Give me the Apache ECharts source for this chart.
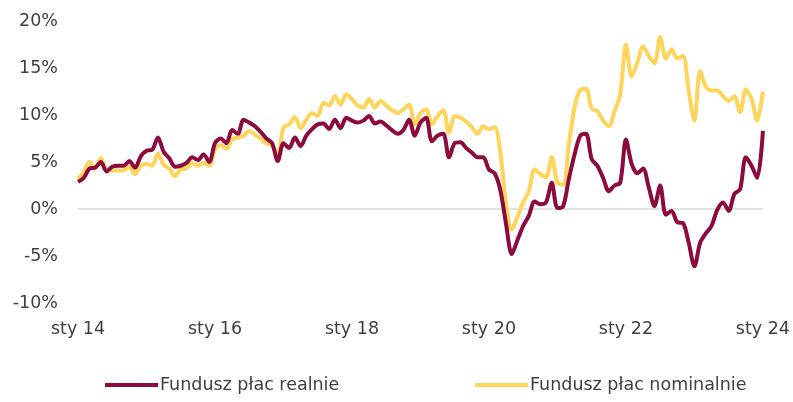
<!DOCTYPE html>
<html>
<head>
<meta charset="utf-8">
<script src="https://cdn.jsdelivr.net/npm/echarts@6/dist/echarts.min.js"></script>
<style>
html,body{margin:0;padding:0;background:#fff;}
#chart{width:793px;height:402px;}
</style>
</head>
<body>
<div id="chart"></div>
<script>
var monthNames = ['sty','lut','mar','kwi','maj','cze','lip','sie','wrz','paź','lis','gru'];
var startYear = 2014;
var monthCount = 121;
var categories = [];
for (var k = 0; k < monthCount; k++) {
  var yy = startYear + Math.floor(k / 12);
  categories.push(monthNames[k % 12] + ' ' + String(yy).slice(2));
}

var seriesNames = ['Fundusz płac realnie', 'Fundusz płac nominalnie'];

var realnie = [
  2.9, 3.3, 4.3, 4.4, 5.0, 4.0, 4.5, 4.6, 4.6, 5.1, 4.4, 5.6,
  6.2, 6.3, 7.6, 6.1, 5.4, 4.5, 4.6, 4.9, 5.5, 5.2, 5.8, 5.0,
  7.0, 7.5, 7.0, 8.4, 8.0, 9.5, 9.2, 8.8, 8.2, 7.5, 7.0, 5.1,
  7.0, 6.5, 7.6, 6.7, 7.8, 8.5, 9.0, 9.1, 8.5, 9.5, 8.6, 9.7,
  9.4, 9.2, 9.4, 9.9, 9.1, 9.3, 8.9, 8.4, 8.0, 8.4, 9.5, 7.8,
  9.2, 9.7, 7.2, 7.8, 8.0, 5.5, 7.0, 7.1, 6.5, 6.0, 5.5, 5.5,
  4.2, 3.8, 2.0, -1.6, -4.8, -3.3, -1.8, -0.7, 0.8, 0.5, 0.7, 2.8,
  0.1, 0.3, 3.2, 5.8, 7.8, 8.0, 5.3, 4.6, 3.3, 1.9, 2.5, 2.8,
  7.4, 4.8, 3.8, 4.3, 2.3, 0.3, 2.5, -0.6, -0.2, -1.4, -1.5, -3.6,
  -6.1, -3.6, -2.6, -1.8, -0.1, 0.7, -0.2, 1.6, 2.1, 5.5, 4.6, 3.3,
  8.3
];

var nominalnie = [
  3.2, 3.9, 5.0, 4.3, 5.4, 4.2, 4.1, 4.1, 4.1, 4.5, 3.7, 4.6,
  4.8, 4.6, 5.9, 4.7, 4.3, 3.5, 4.2, 4.3, 4.9, 4.6, 4.9, 4.6,
  6.3, 6.8, 6.4, 7.4, 7.6, 7.8, 8.3, 7.9, 7.5, 7.0, 6.8, 5.7,
  8.7, 9.0, 9.8, 8.6, 9.5, 10.2, 9.9, 11.3, 11.0, 12.0, 11.1, 12.2,
  11.7, 11.0, 10.8, 11.7, 10.8, 11.5, 11.0, 10.5, 10.2, 10.6, 11.1, 9.0,
  10.2, 10.6, 9.0, 9.9, 10.5, 8.1, 9.9, 9.7, 9.3, 8.7, 8.0, 8.8,
  8.5, 8.7, 6.0, 0.5, -2.2, -0.8, 0.7, 1.9, 4.2, 3.7, 3.4, 5.5,
  2.8, 2.6, 6.9, 10.8, 12.7, 12.8, 10.7, 10.4, 9.4, 8.8, 10.4, 12.2,
  17.5, 14.1, 15.6, 17.3, 16.3, 15.5, 18.3, 16.0, 17.0, 16.0, 16.3, 12.5,
  9.4, 14.7, 13.0, 12.6, 12.6, 12.0, 11.5, 12.0, 10.3, 12.7, 11.7, 9.4,
  12.5
];

var yMin = -10, yMax = 20, yStep = 5;

var FONT = 'DejaVu Sans';
var TXT = '#3f3f3f';
var C_REAL = '#8c0a3d';
var C_NOM = '#ffd45a';

var chart = echarts.init(document.getElementById('chart'), null, {renderer: 'canvas'});
chart.setOption({
  animation: false,
  backgroundColor: '#ffffff',
  grid: {left: 78, right: 28, top: 21, bottom: 99, containLabel: false},
  legend: [
    {
      data: [seriesNames[0]], left: 105, top: 376, padding: 0,
      itemWidth: 53, itemHeight: 4, icon: 'rect', itemGap: 0,
      textStyle: {fontFamily: FONT, fontSize: 17.5, color: TXT, padding: [0,0,0,-3]}
    },
    {
      data: [seriesNames[1]], left: 475, top: 376, padding: 0,
      itemWidth: 53, itemHeight: 4, icon: 'rect', itemGap: 0,
      textStyle: {fontFamily: FONT, fontSize: 17.5, color: TXT, padding: [0,0,0,-3]}
    }
  ],
  xAxis: {
    type: 'category',
    data: categories,
    boundaryGap: false,
    axisLine: {show: false, onZero: false},
    axisTick: {show: false},
    splitLine: {show: false},
    axisLabel: {
      interval: 23, margin: 17,
      fontFamily: FONT, fontSize: 17.5, color: TXT
    }
  },
  yAxis: {
    type: 'value',
    min: yMin, max: yMax, interval: yStep,
    axisLine: {show: false},
    axisTick: {show: false},
    splitLine: {show: false},
    axisLabel: {
      margin: 20,
      fontFamily: FONT, fontSize: 17.5, color: TXT,
      formatter: function (v) { return v + '%'; }
    }
  },
  series: [
    {
      name: seriesNames[1], type: 'line', data: nominalnie,
      smooth: 0.3, symbol: 'none',
      lineStyle: {color: C_NOM, width: 4},
      itemStyle: {color: C_NOM},
      z: 2,
      markLine: {
        silent: true, symbol: ['none','none'], label: {show: false},
        lineStyle: {color: '#d9d9d9', width: 1.5, type: 'solid'},
        data: [{yAxis: 0}],
        z: 1
      }
    },
    {
      name: seriesNames[0], type: 'line', data: realnie,
      smooth: 0.3, symbol: 'none',
      lineStyle: {color: C_REAL, width: 4},
      itemStyle: {color: C_REAL},
      z: 3
    }
  ]
});
</script>
</body>
</html>
